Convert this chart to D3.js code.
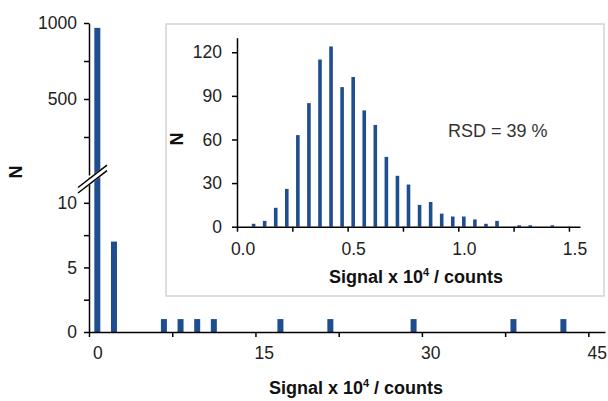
<!DOCTYPE html>
<html>
<head>
<meta charset="utf-8">
<script src="https://cdn.jsdelivr.net/npm/d3@7"></script>
<style>
  body { margin: 0; background: #fff; }
  svg { display: block; font-family: "Liberation Sans", Arial, sans-serif; }
  .axis path, .axis line { stroke: #000; stroke-width: 1.5; }
  .axis text { font-size: 17.5px; fill: #222; font-family: "Liberation Sans", Arial, sans-serif; }
  .title { font-size: 18px; font-weight: bold; fill: #111; }
</style>
</head>
<body>
<div id="vis"></div>
<script>
// main histogram: bins of 1.5 (x 10^4 counts), only the non-empty ones
var mainBins = [0, 1.5, 6, 7.5, 9, 10.5, 16.5, 21, 28.5, 37.5, 42];
var mainCounts = [968, 7, 1, 1, 1, 1, 1, 1, 1, 1, 1];
var mainXLabels = [0, 15, 30, 45];
var mainUpperTicks = [250, 500, 750, 1000];
var mainLowerTicks = [0, 2.5, 5, 7.5, 10];

// inset histogram: bins of 0.05
var insetBins = [0.05, 0.10, 0.15, 0.20, 0.25, 0.30, 0.35, 0.40, 0.45, 0.50,
  0.55, 0.60, 0.65, 0.70, 0.75, 0.80, 0.85, 0.90, 0.95, 1.00,
  1.05, 1.10, 1.15, 1.25, 1.30, 1.40];
var insetCounts = [2, 4, 13, 26, 63, 85, 115, 124, 96, 103,
  80, 70, 48, 35, 29, 15, 17, 9, 7, 7,
  5, 2, 4, 1, 1, 1];
var insetXLabels = [0, 0.5, 1, 1.5];
var insetYTicks = [0, 30, 60, 90, 120];

var width = 608;
var height = 401;
var barColor = '#1f4e8f';

var svg = d3.select('#vis').append('svg')
  .attr('width', width)
  .attr('height', height);

// ---- main chart ----
var x = d3.scaleLinear().domain([-0.75, 45.75]).range([89, 605]);
var yLower = d3.scaleLinear().domain([0, 12]).range([332, 177]);
var yUpper = d3.scaleLinear().domain([0, 1000]).range([175, 23]);
var lowerMax = 12;

function yMain(v) {
  return v > lowerMax ? yUpper(v) : yLower(v);
}

svg.selectAll('.mainBar')
  .data(mainBins)
  .enter().append('rect')
  .attr('class', 'mainBar')
  .attr('x', function (d) { return x(d) - 3; })
  .attr('width', 6)
  .attr('y', function (d, i) { return yMain(mainCounts[i]); })
  .attr('height', function (d, i) { return yLower(0) - yMain(mainCounts[i]); })
  .attr('fill', barColor);

// tick marks sit between categories, every 5 bins
var mainTickPos = d3.range(-0.75, 45, 7.5);

svg.append('g')
  .attr('class', 'axis')
  .attr('transform', 'translate(0,' + yLower(0) + ')')
  .call(d3.axisBottom(x).tickValues(mainTickPos).tickFormat('').tickSize(5).tickSizeOuter(0));

svg.append('g')
  .attr('class', 'axis')
  .attr('transform', 'translate(0,' + yLower(0) + ')')
  .call(d3.axisBottom(x).tickValues(mainXLabels).tickSize(0).tickPadding(15))
  .select('.domain').remove();

svg.append('g')
  .attr('class', 'axis')
  .attr('transform', 'translate(' + x(-0.75) + ',0)')
  .call(d3.axisLeft(yLower).tickValues(mainLowerTicks)
    .tickFormat(function (d) { return d % 5 ? '' : d; })
    .tickSize(5).tickSizeOuter(0).tickPadding(7));

svg.append('g')
  .attr('class', 'axis')
  .attr('transform', 'translate(' + x(-0.75) + ',0)')
  .call(d3.axisLeft(yUpper).tickValues(mainUpperTicks)
    .tickFormat(function (d) { return d % 500 ? '' : d; })
    .tickSize(5).tickSizeOuter(0).tickPadding(7));

// axis break mark
var bx0 = x(-0.75) - 11, bx1 = x(-0.75) + 18;
var by = yLower(lowerMax) + 2;
var slope = 0.77;
var gap = 5.5;
function breakY(px) { return by - (px - x(-0.75)) * slope; }

svg.append('polygon')
  .attr('points', [
    [bx0, breakY(bx0) - 1], [bx1, breakY(bx1) - 1],
    [bx1, breakY(bx1) + gap + 1], [bx0, breakY(bx0) + gap + 1]
  ].join(' '))
  .attr('fill', '#fff');

[0, gap].forEach(function (off) {
  svg.append('line')
    .attr('x1', bx0).attr('y1', breakY(bx0) + off)
    .attr('x2', bx1).attr('y2', breakY(bx1) + off)
    .attr('stroke', '#000')
    .attr('stroke-width', 1.5);
});

svg.append('text')
  .attr('class', 'title')
  .attr('transform', 'translate(16,172) rotate(-90)')
  .attr('text-anchor', 'middle')
  .attr('dominant-baseline', 'central')
  .text('N');

function signalTitle(cx, cy) {
  var t = svg.append('text')
    .attr('class', 'title')
    .attr('x', cx)
    .attr('y', cy)
    .attr('text-anchor', 'middle');
  t.append('tspan').text('Signal x 10');
  t.append('tspan').attr('font-size', '11px').attr('dy', -7).text('4');
  t.append('tspan').attr('dy', 7).text(' / counts');
}

signalTitle(356, 394);

// ---- inset ----
svg.append('rect')
  .attr('x', 166)
  .attr('y', 24)
  .attr('width', 438)
  .attr('height', 272)
  .attr('fill', '#fff')
  .attr('stroke', '#d2d2d2')
  .attr('stroke-width', 1.5);

var xi = d3.scaleLinear().domain([-0.025, 1.525]).range([237, 580]);
var yi = d3.scaleLinear().domain([0, 130]).range([226.7, 37.7]);

svg.selectAll('.insetBar')
  .data(insetBins)
  .enter().append('rect')
  .attr('class', 'insetBar')
  .attr('x', function (d) { return xi(d) - 1.8; })
  .attr('width', 3.6)
  .attr('y', function (d, i) { return yi(insetCounts[i]); })
  .attr('height', function (d, i) { return yi(0) - yi(insetCounts[i]); })
  .attr('fill', barColor);

var insetTickPos = d3.range(-0.025, 1.5, 0.25);

svg.append('g')
  .attr('class', 'axis')
  .attr('transform', 'translate(0,' + yi(0) + ')')
  .call(d3.axisBottom(xi).tickValues(insetTickPos).tickFormat('').tickSize(5).tickSizeOuter(0));

svg.append('g')
  .attr('class', 'axis')
  .attr('transform', 'translate(0,' + yi(0) + ')')
  .call(d3.axisBottom(xi).tickValues(insetXLabels).tickSize(0).tickPadding(16))
  .select('.domain').remove();

svg.append('g')
  .attr('class', 'axis')
  .attr('transform', 'translate(' + xi(-0.025) + ',0)')
  .call(d3.axisLeft(yi).tickValues(insetYTicks).tickSize(5).tickSizeOuter(0).tickPadding(10));

svg.append('text')
  .attr('class', 'title')
  .attr('transform', 'translate(177,139) rotate(-90)')
  .attr('text-anchor', 'middle')
  .attr('dominant-baseline', 'central')
  .text('N');

signalTitle(416, 283);

svg.append('text')
  .attr('x', 448)
  .attr('y', 137)
  .attr('font-size', '18px')
  .attr('fill', '#333')
  .text('RSD = 39 %');
</script>
</body>
</html>
